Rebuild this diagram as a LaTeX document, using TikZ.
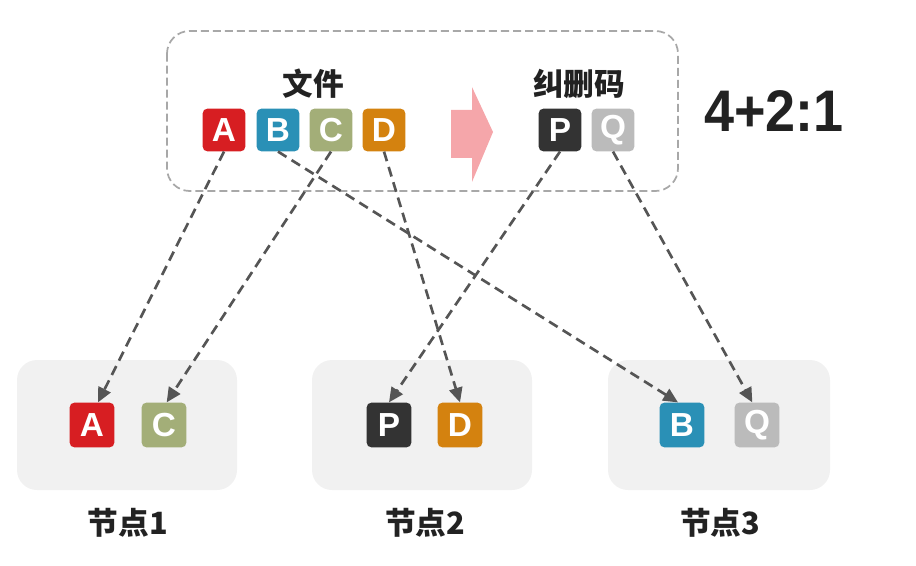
\documentclass[tikz,border=0pt]{standalone}
\usepackage{fontspec}
\setmainfont{Liberation Sans}
\newfontfamily\cjk{Noto Sans CJK SC}
\usetikzlibrary{arrows.meta}
\definecolor{cA}{HTML}{D71E22}
\definecolor{cB}{HTML}{2A90B6}
\definecolor{cC}{HTML}{A3AE78}
\definecolor{cD}{HTML}{D4820F}
\definecolor{cP}{HTML}{333333}
\definecolor{cQ}{HTML}{BBBBBB}
\definecolor{lineg}{HTML}{555555}
\definecolor{boxg}{HTML}{F1F1F1}
\definecolor{dashg}{HTML}{A8A8A8}
\definecolor{pinkA}{HTML}{F5A6AA}
\definecolor{txt}{HTML}{222222}
\tikzset{
  blk/.style={minimum size=32pt, inner sep=0pt, rounded corners=3.5pt, text=white,
    font=\fontsize{25}{25}\selectfont\bfseries},
  conn/.style={draw=lineg, line width=2pt, dash pattern=on 7.5pt off 4.5pt,
    -{Triangle[length=11pt,width=10pt]}},
  lbl/.style={text=txt, inner sep=0pt, font=\cjk\bfseries\fontsize{23}{23}\selectfont},
  nodebox/.style={fill=boxg, rounded corners=15pt},
}
\begin{document}
\begin{tikzpicture}[x=0.75pt,y=-0.75pt]
\useasboundingbox (0,0) rectangle (916,566);
% bottom boxes
\path[nodebox] (17,360) rectangle (237,490);
\path[nodebox] (312,360) rectangle (532,490);
\path[nodebox] (608,360) rectangle (830,490);
% top dashed box
\draw[dashg, line width=1.3pt, dash pattern=on 6pt off 3pt, rounded corners=17pt] (167,31) rectangle (678,191);
% pink arrow
\fill[pinkA] (451,110) -- (472,110) -- (472,87) -- (493,132) -- (472,182) -- (472,158) -- (451,158) -- cycle;
% labels
\node[lbl] (wj) at (313,84) {文件};
\node[lbl] (jsm) at (579,84) {纠删码};
\node[text=txt, inner sep=0pt, font=\fontsize{44}{44}\selectfont\bfseries, xscale=0.92] (ratio) at (774,111) {4+2:1};
\node[lbl] (n1) at (128,523) {节点1};
\node[lbl] (n2) at (425,523) {节点2};
\node[lbl] (n3) at (720,523) {节点3};
% top blocks
\node[blk, fill=cA] (tA) at (224,130) {A};
\node[blk, fill=cB] (tB) at (278,130) {B};
\node[blk, fill=cC] (tC) at (331,130) {C};
\node[blk, fill=cD] (tD) at (384,130) {D};
\node[blk, fill=cP] (tP) at (560,130) {P};
\node[blk, fill=cQ] (tQ) at (613,130) {Q};
% bottom blocks
\node[blk, fill=cA, minimum size=33.5pt] (bA) at (92,425) {A};
\node[blk, fill=cC, minimum size=33.5pt] (bC) at (164,425) {C};
\node[blk, fill=cP, minimum size=33.5pt] (bP) at (389,425) {P};
\node[blk, fill=cD, minimum size=33.5pt] (bD) at (460,425) {D};
\node[blk, fill=cB, minimum size=33.5pt] (bB) at (682,425) {B};
\node[blk, fill=cQ, minimum size=33.5pt] (bQ) at (757,425) {Q};
% connectors
\draw[conn] (tA.south) -- ([xshift=4.5pt]bA.north);
\draw[conn] (tB.south) -- ([xshift=-3pt]bB.north);
\draw[conn] (tC.south) -- ([xshift=2pt]bC.north);
\draw[conn] (tD.south) -- (bD.north);
\draw[conn] (tP.south) -- (bP.north);
\draw[conn] (tQ.south) -- ([xshift=-3.5pt]bQ.north);
\end{tikzpicture}
\end{document}
